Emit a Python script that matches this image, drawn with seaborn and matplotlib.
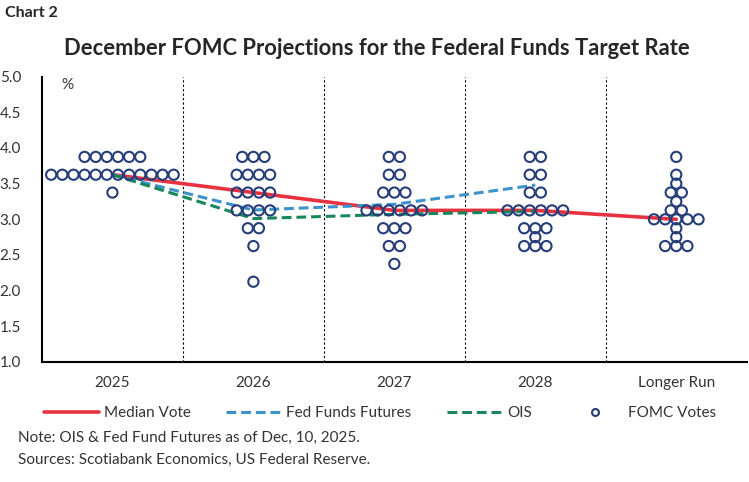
import numpy as np
import pandas as pd
import matplotlib
matplotlib.use("Agg")
import matplotlib.pyplot as plt
from matplotlib.lines import Line2D
import seaborn as sns

# categories on the x axis
years = ["2025", "2026", "2027", "2028", "Longer Run"]

# FOMC votes per category: (rate, number of dots)
votes_2025 = [(3.875, 6), (3.625, 12), (3.375, 1)]
votes_2026 = [(3.875, 3), (3.625, 4), (3.375, 4), (3.125, 4), (2.875, 2), (2.625, 1), (2.125, 1)]
votes_2027 = [(3.875, 2), (3.625, 2), (3.375, 3), (3.125, 6), (2.875, 3), (2.625, 2), (2.375, 1)]
votes_2028 = [(3.875, 2), (3.625, 2), (3.375, 2), (3.125, 6), (2.875, 3), (2.75, 1), (2.625, 3)]
votes_lr = [(3.875, 1), (3.625, 1), (3.5, 1), (3.375, 2), (3.25, 1), (3.125, 2), (3.0, 5),
            (2.875, 1), (2.75, 1), (2.625, 3)]

median_vote = [3.625, 3.375, 3.125, 3.125, 3.0]
fed_funds_futures = [3.625, 3.13, 3.21, 3.48]
ois = [3.625, 3.01, 3.07, 3.11]

y_ticks = [1.0, 1.5, 2.0, 2.5, 3.0, 3.5, 4.0, 4.5, 5.0]

# colours
red = "#E8313F"
blue = "#3C92CA"
green = "#17875A"
navy = "#263D7A"
text_col = "#333333"

sns.set_theme(style="white")
plt.rcParams["font.family"] = ["Lato", "DejaVu Sans"]

fig = plt.figure(figsize=(7.49, 4.82), dpi=100)
ax = fig.add_axes([0.056, 0.249, 0.941, 0.592])

# build dot table: spread dots of the same rate horizontally
spacing = 0.079
rows = []
for i, votes in enumerate([votes_2025, votes_2026, votes_2027, votes_2028, votes_lr]):
    for rate, n in votes:
        offsets = (np.arange(n) - (n - 1) / 2) * spacing
        for off in offsets:
            rows.append({"x": i + 0.5 + off, "rate": rate})
dots = pd.DataFrame(rows)

centers = np.arange(len(years)) + 0.5
lines = pd.DataFrame({"x": centers, "median": median_vote})
ffut = pd.DataFrame({"x": centers[:len(fed_funds_futures)], "rate": fed_funds_futures})
ois_df = pd.DataFrame({"x": centers[:len(ois)], "rate": ois})

dash = (0, (3.2, 1.6))
sns.lineplot(data=lines, x="x", y="median", ax=ax, color=red, linewidth=2.6, zorder=3)
sns.lineplot(data=ffut, x="x", y="rate", ax=ax, color=blue, linewidth=2.2,
             linestyle=dash, zorder=3)
sns.lineplot(data=ois_df, x="x", y="rate", ax=ax, color=green, linewidth=2.2,
             linestyle=dash, zorder=3)
sns.scatterplot(data=dots, x="x", y="rate", ax=ax, s=54, facecolor="none",
                edgecolor=navy, linewidth=1.5, zorder=4)

# vertical separators between categories
for b in range(1, len(years)):
    ax.axvline(b, color="black", linewidth=0.8, linestyle=(0, (2, 2)), zorder=1)

ax.set_xlim(0, len(years))
ax.set_ylim(1.0, 5.0)
ax.set_yticks(y_ticks)
ax.set_yticklabels([f"{v:.1f}" for v in y_ticks])
ax.set_xticks(np.arange(len(years) + 1))
ax.set_xticklabels([])
ax.set_xticks(centers, minor=True)
ax.set_xticklabels(years, minor=True)
ax.tick_params(axis="x", which="major", direction="inout", length=7, width=1.2, color="black")
ax.tick_params(axis="x", which="minor", length=0, pad=10, labelsize=11, labelcolor=text_col)
ax.tick_params(axis="y", direction="in", length=4, width=1.2, color="black", pad=15,
               labelsize=11, labelcolor=text_col)
ax.set_xlabel("")
ax.set_ylabel("")
for s in ["top", "right"]:
    ax.spines[s].set_visible(False)
for s in ["left", "bottom"]:
    ax.spines[s].set_color("black")
    ax.spines[s].set_linewidth(1.5)

ax.text(0.027, 0.995, "%", transform=ax.transAxes, ha="left", va="top",
        fontsize=11, color=text_col)

fig.text(0.007, 0.972, "Chart 2", fontsize=11.5, fontweight="bold", ha="left", va="center")
fig.text(0.503, 0.9, "December FOMC Projections for the Federal Funds Target Rate",
         fontsize=15.8, fontweight="bold", ha="center", va="center")

handles = [
    Line2D([], [], color=red, linewidth=2.6),
    Line2D([], [], color=blue, linewidth=2.2, linestyle=dash),
    Line2D([], [], color=green, linewidth=2.2, linestyle=dash),
    Line2D([], [], color=navy, marker="o", linestyle="none", markersize=5,
           markerfacecolor="none", markeredgewidth=1.5),
]
fig.legend(handles, ["Median Vote", "Fed Funds Futures", "OIS", "FOMC Votes"],
           loc="center", bbox_to_anchor=(0.507, 0.143), ncol=4, frameon=False,
           fontsize=11, handlelength=3.6, handletextpad=0.35, columnspacing=2.3,
           labelcolor=text_col)

fig.text(0.024, 0.091, "Note: OIS & Fed Fund Futures as of Dec, 10, 2025.",
         fontsize=11, color=text_col, ha="left", va="center")
fig.text(0.024, 0.046, "Sources: Scotiabank Economics, US Federal Reserve.",
         fontsize=11, color=text_col, ha="left", va="center")

fig.savefig("out.png", dpi=100)
